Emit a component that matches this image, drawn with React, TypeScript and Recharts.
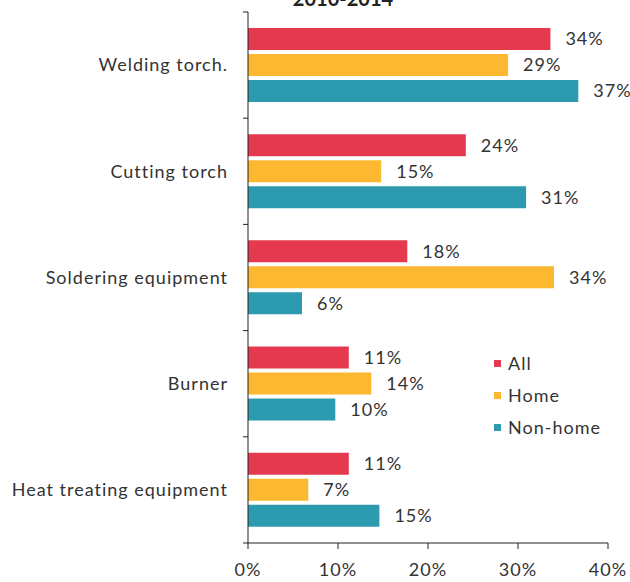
import { BarChart, Bar, XAxis, YAxis, LabelList, Legend } from 'recharts';

const categories = [
  'Welding torch.',
  'Cutting torch',
  'Soldering equipment',
  'Burner',
  'Heat treating equipment',
];
const allValues = [33.6, 24.2, 17.7, 11.2, 11.2];
const homeValues = [28.9, 14.8, 34.0, 13.7, 6.7];
const nonHomeValues = [36.7, 30.9, 6.0, 9.7, 14.6];
const xTicks = [0, 10, 20, 30, 40];

const series = [
  { key: 'all', name: 'All', color: '#E5394F', values: allValues },
  { key: 'home', name: 'Home', color: '#FCB830', values: homeValues },
  { key: 'nonHome', name: 'Non-home', color: '#2C9AAF', values: nonHomeValues },
];

const data = categories.map((name, i) => ({
  name,
  all: allValues[i],
  home: homeValues[i],
  nonHome: nonHomeValues[i],
}));

const FONT = 'Lato, "Open Sans", sans-serif';
const TEXT = '#333333';
const AXIS = '#222222';
const TICK_GAP = 20; // tickSize + tickMargin on the category axis

// category label plus the small marks at the band edges
function CategoryTick(props: any) {
  const { x, y, payload, index } = props;
  const half = payload?.offset ?? 0;
  const ax = x + TICK_GAP;
  return (
    <g>
      <line x1={ax - 5} x2={ax} y1={y - half} y2={y - half} stroke={AXIS} />
      {index === categories.length - 1 && (
        <line x1={ax - 5} x2={ax} y1={y + half} y2={y + half} stroke={AXIS} />
      )}
      <text
        x={x}
        y={y}
        dy="0.355em"
        textAnchor="end"
        fontFamily={FONT}
        fontSize={18}
        letterSpacing={1}
        fill={TEXT}
      >
        {payload.value}
      </text>
    </g>
  );
}

function LegendBox() {
  return (
    <div style={{ fontFamily: FONT, fontSize: 18, letterSpacing: 1, color: TEXT }}>
      {series.map((s) => (
        <div key={s.key} style={{ display: 'flex', alignItems: 'center', height: 32 }}>
          <span style={{ width: 7, height: 7, background: s.color, marginRight: 7 }} />
          {s.name}
        </div>
      ))}
    </div>
  );
}

export default function App() {
  return (
    <div style={{ position: 'absolute', left: 0, top: 0, width: 630, height: 582, background: '#fff' }}>
      <svg width={630} height={12} style={{ position: 'absolute', left: 0, top: 0 }}>
        <text x={343} y={6} textAnchor="middle" fontFamily={FONT} fontWeight={700} fontSize={20} fill="#222">
          2010-2014
        </text>
      </svg>
      <BarChart
        width={630}
        height={582}
        data={data}
        layout="vertical"
        margin={{ top: 12, right: 22, bottom: 0, left: 0 }}
        barCategoryGap="15%"
        barGap={4}
        style={{ position: 'absolute', left: 0, top: 0 }}
      >
        <XAxis
          type="number"
          domain={[0, 40]}
          ticks={xTicks}
          tickFormatter={(v) => `${v}%`}
          height={39}
          tickSize={6}
          tickMargin={14}
          stroke={AXIS}
          tick={{ fontFamily: FONT, fontSize: 18, letterSpacing: 1, fill: TEXT }}
          interval={0}
        />
        <YAxis
          type="category"
          dataKey="name"
          width={248}
          tickLine={false}
          tickSize={14}
          tickMargin={6}
          stroke={AXIS}
          tick={<CategoryTick />}
          interval={0}
        />
        <Legend
          layout="vertical"
          verticalAlign="middle"
          align="center"
          content={() => <LegendBox />}
          wrapperStyle={{ left: 494, top: 347, width: 130 }}
        />
        {series.map((s) => (
          <Bar key={s.key} dataKey={s.key} name={s.name} fill={s.color} isAnimationActive={false}>
            <LabelList
              dataKey={s.key}
              position="right"
              offset={15}
              formatter={(v: number) => `${Math.round(v)}%`}
              style={{ fontFamily: FONT, fontSize: 18, letterSpacing: 1, fill: TEXT }}
            />
          </Bar>
        ))}
      </BarChart>
    </div>
  );
}
